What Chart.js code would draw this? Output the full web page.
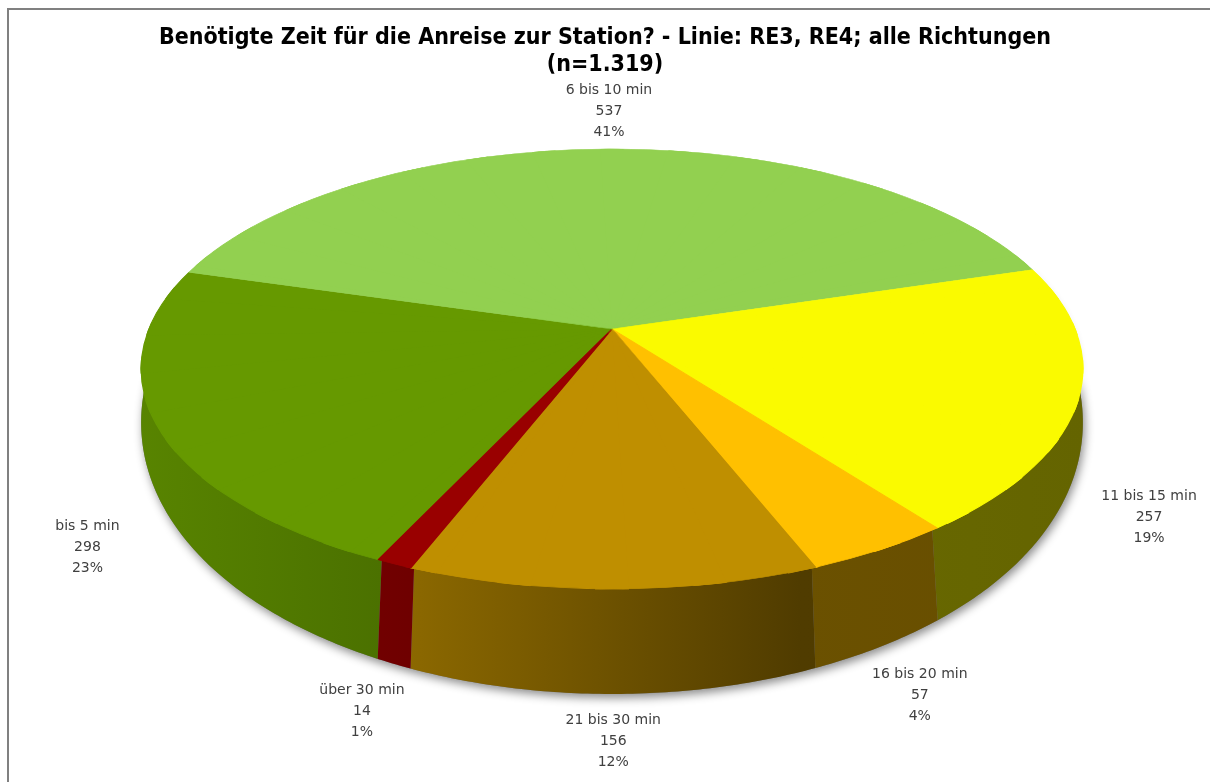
<!DOCTYPE html>
<html>
<head>
<meta charset="utf-8">
<script src="https://cdn.jsdelivr.net/npm/chart.js@4.4.1/dist/chart.umd.min.js"></script>
<style>
  html, body { margin: 0; padding: 0; background: #ffffff; }
  #wrap { width: 1210px; height: 782px; position: relative; }
</style>
</head>
<body>
<div id="wrap"><canvas id="pie3d"></canvas></div>
<script>
// Daten
const titleLines = ['Benötigte Zeit für die Anreise zur Station? - Linie: RE3, RE4; alle Richtungen', '(n=1.319)'];
const categories = ['bis 5 min', '6 bis 10 min', '11 bis 15 min', '16 bis 20 min', '21 bis 30 min', 'über 30 min'];
const counts = [298, 537, 257, 57, 156, 14];
const sliceColors = ['#669900', '#92D050', '#FAFA00', '#FFC000', '#BF8F00', '#990000'];

const total = counts.reduce((a, b) => a + b, 0);

// Geometrie der 3D-Ansicht (Spitze der Torte, Halbachsen, Perspektive)
const APEX_X = 612, APEX_Y = 329;
const AX = 463, BY = 212.7, PERSP = 0.1818;
const WEDGES = 36;

function proj(t, r) {
    const u = r * Math.cos(t), v = r * Math.sin(t);
    const w = 1 - PERSP * v;
    return [APEX_X + AX * u / w, APEX_Y + BY * v / w];
}
function wallDepth(t) {
    return Math.max(20, 42 + 63 * Math.sin(t));
}

function shade(hex, f) {
    const n = parseInt(hex.slice(1), 16);
    const r = Math.round(((n >> 16) & 255) * f);
    const g = Math.round(((n >> 8) & 255) * f);
    const b = Math.round((n & 255) * f);
    return `rgb(${r},${g},${b})`;
}

function wallPath(ctx, lo, hi) {
    const n = Math.max(2, Math.ceil((hi - lo) / 0.01));
    ctx.beginPath();
    for (let i = 0; i <= n; i++) {
        const t = lo + (hi - lo) * i / n;
        const p = proj(t, 0.985);
        if (i === 0) ctx.moveTo(p[0], p[1]); else ctx.lineTo(p[0], p[1]);
    }
    for (let i = n; i >= 0; i--) {
        const t = lo + (hi - lo) * i / n;
        const p = proj(t, 1);
        ctx.lineTo(p[0], p[1] + wallDepth(t));
    }
    ctx.closePath();
}

// affine Abbildung eines Kreissektors [a, b] auf die perspektivische Ellipse
function wedgeTransform(ctx, a, b, cx, cy, R) {
    const pa = proj(a, 1), pb = proj(b, 1);
    const ux = pa[0] - APEX_X, uy = pa[1] - APEX_Y;
    const vx = pb[0] - APEX_X, vy = pb[1] - APEX_Y;
    const ca = Math.cos(a), sa = Math.sin(a), cb = Math.cos(b), sb = Math.sin(b);
    const det = ca * sb - cb * sa;
    const m11 = (ux * sb - vx * sa) / det, m12 = (-ux * cb + vx * ca) / det;
    const m21 = (uy * sb - vy * sa) / det, m22 = (-uy * cb + vy * ca) / det;
    ctx.setTransform(m11 / R, m21 / R, m12 / R, m22 / R,
        APEX_X - (m11 * cx + m12 * cy) / R,
        APEX_Y - (m21 * cx + m22 * cy) / R);
}

const pie3dPlugin = {
    id: 'pie3d',
    beforeDraw(chart) {
        const ctx = chart.ctx;
        ctx.save();
        ctx.strokeStyle = '#808080';
        ctx.lineWidth = 2;
        ctx.beginPath();
        ctx.moveTo(8, 782);
        ctx.lineTo(8, 9);
        ctx.lineTo(1210, 9);
        ctx.stroke();
        ctx.restore();
    },
    beforeDatasetsDraw(chart) {
        const ctx = chart.ctx;
        const arcs = chart.getDatasetMeta(0).data;
        const FRONT_LO = -0.3, FRONT_HI = Math.PI + 0.3;

        // Schatten unter der Torte
        ctx.save();
        ctx.shadowColor = 'rgba(0,0,0,0.45)';
        ctx.shadowBlur = 10;
        ctx.shadowOffsetX = 2;
        ctx.shadowOffsetY = 4;
        ctx.fillStyle = '#777';
        wallPath(ctx, FRONT_LO, FRONT_HI);
        ctx.fill();
        ctx.restore();

        // Seitenwände
        arcs.forEach((arc, i) => {
            const s = arc.startAngle, e = arc.endAngle;
            for (let k = -2; k <= 2; k++) {
                const lo = Math.max(s, FRONT_LO + 2 * Math.PI * k);
                const hi = Math.min(e, FRONT_HI + 2 * Math.PI * k);
                if (hi <= lo) continue;
                const grad = ctx.createLinearGradient(140, 0, 1085, 0);
                grad.addColorStop(0, shade(sliceColors[i], 0.86));
                grad.addColorStop(0.296, shade(sliceColors[i], 0.72));
                grad.addColorStop(0.698, shade(sliceColors[i], 0.42));
                grad.addColorStop(1, shade(sliceColors[i], 0.40));
                ctx.save();
                ctx.fillStyle = grad;
                wallPath(ctx, lo, hi);
                ctx.fill();
                ctx.restore();
            }
        });

        // Deckfläche: Chart.js-Bögen stückweise affin in die Perspektive gebracht
        const cx = arcs[0].x, cy = arcs[0].y, R = arcs[0].outerRadius;
        const step = 2 * Math.PI / WEDGES, eps = 0.03;

        // Unterlage gegen Nahtlinien an der Spitze
        for (let w = 0; w < WEDGES; w++) {
            const a = w * step, b = a + step;
            ctx.save();
            wedgeTransform(ctx, a, b, cx, cy, R);
            ctx.beginPath();
            ctx.moveTo(cx, cy);
            ctx.arc(cx, cy, R * 0.2, a - 0.15, b + 0.15);
            ctx.closePath();
            ctx.clip();
            arcs.forEach(arc => arc.draw(ctx));
            ctx.restore();
        }

        for (let w = 0; w < WEDGES; w++) {
            const a = w * step, b = a + step;
            ctx.save();
            wedgeTransform(ctx, a, b, cx, cy, R);
            ctx.beginPath();
            ctx.moveTo(cx, cy);
            ctx.lineTo(cx + 2 * R * Math.cos(a - eps), cy + 2 * R * Math.sin(a - eps));
            ctx.lineTo(cx + 2 * R * Math.cos(b + eps), cy + 2 * R * Math.sin(b + eps));
            ctx.closePath();
            ctx.clip();
            arcs.forEach(arc => arc.draw(ctx));
            ctx.restore();
        }
        return false;
    },
    afterDraw(chart) {
        const ctx = chart.ctx;
        const arcs = chart.getDatasetMeta(0).data;
        ctx.save();
        ctx.font = '14px "DejaVu Sans"';
        ctx.fillStyle = '#404040';
        ctx.textAlign = 'center';
        ctx.textBaseline = 'middle';
        arcs.forEach((arc, i) => {
            const t = (arc.startAngle + arc.endAngle) / 2;
            const p = proj(t, 1.05);
            let x = p[0] + 48 * Math.cos(t);
            let y = p[1] + 30 * Math.sin(t);
            if (Math.sin(t) > 0) y += 106;
            const pct = Math.round(counts[i] / total * 100) + '%';
            [categories[i], String(counts[i]), pct].forEach((line, j) => {
                ctx.fillText(line, x, y + (j - 1) * 21);
            });
        });
        ctx.restore();
    }
};

new Chart(document.getElementById('pie3d'), {
    type: 'pie',
    data: {
        labels: categories,
        datasets: [{
            data: counts,
            backgroundColor: sliceColors,
            borderColor: sliceColors,
            borderWidth: 1
        }]
    },
    options: {
        responsive: true,
        maintainAspectRatio: false,
        animation: false,
        rotation: -155,
        layout: { padding: 0 },
        plugins: {
            legend: { display: false },
            tooltip: { enabled: false },
            title: {
                display: true,
                text: titleLines,
                color: '#000000',
                font: { family: '"DejaVu Sans Condensed", "DejaVu Sans"', size: 23, weight: 'bold' },
                lineHeight: 1.4,
                padding: { top: 24, bottom: 10 }
            }
        }
    },
    plugins: [pie3dPlugin]
});
</script>
</body>
</html>
